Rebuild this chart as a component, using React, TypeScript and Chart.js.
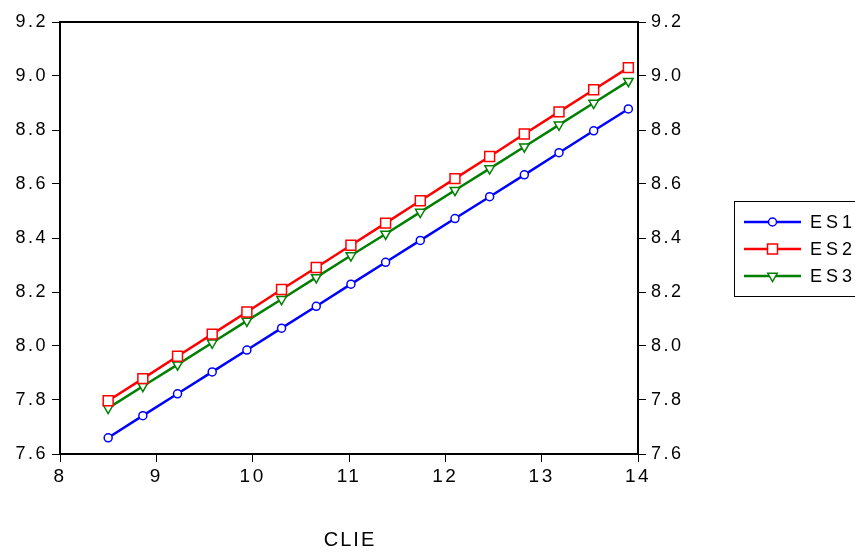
import React, { useEffect, useRef } from "react";
import { Chart, registerables } from "chart.js";

Chart.register(...registerables);

const xValues = [8.5, 8.86, 9.22, 9.58, 9.94, 10.3, 10.66, 11.02, 11.38, 11.74, 12.1, 12.46, 12.82, 13.18, 13.54, 13.9];
const es1 = [7.660, 7.742, 7.823, 7.904, 7.985, 8.066, 8.147, 8.229, 8.310, 8.391, 8.472, 8.553, 8.634, 8.716, 8.797, 8.878];
const es2 = [7.797, 7.879, 7.962, 8.044, 8.126, 8.209, 8.291, 8.373, 8.455, 8.538, 8.620, 8.702, 8.785, 8.867, 8.949, 9.031];
const es3 = [7.770, 7.851, 7.931, 8.012, 8.093, 8.173, 8.254, 8.335, 8.415, 8.496, 8.577, 8.657, 8.738, 8.819, 8.900, 8.981];
const seriesNames = ["ES1", "ES2", "ES3"];
const xTitle = "CLIE";

const FONT = "'Liberation Sans', Arial, sans-serif";
const LS = "2.5px";

const setSpacing = (chart: any) => {
  try {
    (chart.ctx as any).letterSpacing = LS;
  } catch (e) {}
};

const spacingPlugin = {
  id: "spacing",
  beforeLayout(chart: any) { setSpacing(chart); },
  beforeDraw(chart: any) { setSpacing(chart); },
};

const framePlugin = {
  id: "frame",
  afterDatasetsDraw(chart: any) {
    const { ctx, chartArea } = chart;
    ctx.save();
    ctx.strokeStyle = "#000";
    ctx.lineWidth = 2;
    ctx.strokeRect(chartArea.left, chartArea.top, chartArea.right - chartArea.left, chartArea.bottom - chartArea.top);
    ctx.restore();
  },
};

const legendPlugin = {
  id: "customLegend",
  afterDraw(chart: any) {
    const ctx = chart.ctx;
    const { chartArea } = chart;
    ctx.save();
    ctx.fillStyle = "#000";
    ctx.font = `20px ${FONT}`;
    ctx.textBaseline = "middle";
    ctx.textAlign = "center";
    try { (ctx as any).letterSpacing = "2px"; } catch (e) {}
    ctx.fillText(xTitle, (chartArea.left + chartArea.right) / 2 + 1, 540);

    ctx.strokeStyle = "#000";
    ctx.lineWidth = 1;
    ctx.strokeRect(734.5, 201.5, 200, 95);
    const rows = [222, 249, 276];
    chart.data.datasets.forEach((ds: any, i: number) => {
      const y = rows[i];
      ctx.strokeStyle = ds.borderColor;
      ctx.lineWidth = 2.5;
      ctx.beginPath();
      ctx.moveTo(744, y);
      ctx.lineTo(801, y);
      ctx.stroke();
      const cx = 772.5;
      ctx.fillStyle = "#fff";
      ctx.lineWidth = 1.5;
      ctx.beginPath();
      if (ds.pointStyle === "circle") {
        ctx.arc(cx, y, 4, 0, Math.PI * 2);
      } else if (ds.pointStyle === "rect") {
        ctx.rect(cx - 5, y - 5, 10, 10);
      } else {
        const r = 5.5;
        ctx.moveTo(cx - r * 0.866, y - r * 0.5);
        ctx.lineTo(cx + r * 0.866, y - r * 0.5);
        ctx.lineTo(cx, y + r);
        ctx.closePath();
      }
      ctx.fill();
      ctx.stroke();
      ctx.fillStyle = "#000";
      ctx.font = `18px ${FONT}`;
      ctx.textBaseline = "middle";
      ctx.textAlign = "left";
      try { (ctx as any).letterSpacing = "4px"; } catch (e) {}
      ctx.fillText(ds.label, 810, y + 1);
    });
    ctx.restore();
  },
};

export default function App() {
  const canvasRef = useRef<HTMLCanvasElement | null>(null);

  useEffect(() => {
    if (!canvasRef.current) return;
    const mk = (ys: number[]) => xValues.map((x, i) => ({ x, y: ys[i] }));
    const colors = ["#0000ff", "#ff0000", "#008000"];
    const styles = ["circle", "rect", "triangle"];
    const radii = [4, 7, 5.5];
    const rots = [0, 0, 180];
    const all = [es1, es2, es3];
    const datasets = all.map((ys, i) => ({
      label: seriesNames[i],
      data: mk(ys),
      borderColor: colors[i],
      backgroundColor: "#ffffff",
      pointBackgroundColor: "#ffffff",
      pointBorderColor: colors[i],
      pointStyle: styles[i],
      pointRadius: radii[i],
      pointRotation: rots[i],
      pointBorderWidth: 1.5,
      borderWidth: 2.5,
      tension: 0,
      fill: false,
      yAxisID: "y",
    }));

    const yFont = { family: FONT, size: 18 };
    const xFont = { family: FONT, size: 19 };
    const chart = new Chart(canvasRef.current, {
      type: "line",
      data: { datasets: datasets as any },
      options: {
        animation: false,
        responsive: false,
        maintainAspectRatio: false,
        devicePixelRatio: 1,
        layout: { padding: { top: 22, left: 0, right: 0, bottom: 0 } },
        plugins: { legend: { display: false }, tooltip: { enabled: false } },
        scales: {
          x: {
            type: "linear",
            position: "bottom",
            min: 8,
            max: 14,
            ticks: { stepSize: 1, color: "#000", font: xFont, padding: 3, maxRotation: 0 },
            grid: { drawOnChartArea: false, drawTicks: true, tickLength: 8, color: "#000", tickWidth: 1 },
            border: { display: false },
            afterFit: (s: any) => { s.height = 99; },
          },
          y: {
            type: "linear",
            position: "left",
            min: 7.6,
            max: 9.2,
            ticks: { stepSize: 0.2, color: "#000", font: yFont, padding: 4, callback: (v: any) => Number(v).toFixed(1) },
            grid: { drawOnChartArea: false, drawTicks: true, tickLength: 8, color: "#000", tickWidth: 1 },
            border: { display: false },
            afterFit: (s: any) => { s.width = 60; },
          },
          y2: {
            type: "linear",
            position: "right",
            min: 7.6,
            max: 9.2,
            ticks: { stepSize: 0.2, color: "#000", font: yFont, padding: 5, callback: (v: any) => Number(v).toFixed(1) },
            grid: { drawOnChartArea: false, drawTicks: true, tickLength: 8, color: "#000", tickWidth: 1 },
            border: { display: false },
            afterFit: (s: any) => { s.width = 217; },
          },
        },
      } as any,
      plugins: [spacingPlugin, framePlugin, legendPlugin],
    });
    return () => chart.destroy();
  }, []);

  return (
    <div style={{ position: "absolute", left: 0, top: 0, width: 855, height: 553, background: "#fff" }}>
      <canvas ref={canvasRef} width={855} height={553} style={{ display: "block", width: 855, height: 553 }} />
    </div>
  );
}
